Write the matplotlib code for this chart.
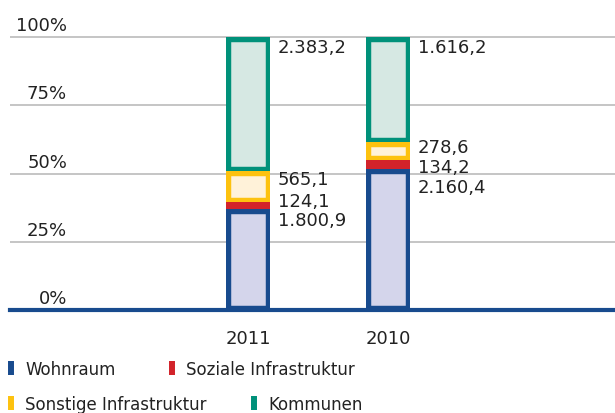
import numpy as np
import matplotlib.pyplot as plt
from matplotlib.lines import Line2D

# data (Mio. EUR)
years = ["2011", "2010"]
categories = ["Wohnraum", "Soziale Infrastruktur", "Sonstige Infrastruktur", "Kommunen"]
wohnraum = [1800.9, 2160.4]
soziale = [124.1, 134.2]
sonstige = [565.1, 278.6]
kommunen = [2383.2, 1616.2]
value_labels = [["1.800,9", "2.160,4"], ["124,1", "134,2"], ["565,1", "278,6"], ["2.383,2", "1.616,2"]]

edge_colors = ["#184b8e", "#d2232a", "#fdc20f", "#00917a"]
fill_colors = ["#d4d5eb", "#d2232a", "#fff2d9", "#d6e8e3"]
# label baseline offsets (pixels) relative to segment top
label_dy = [[-16, -23], [-3.5, -11.5], [-13.5, -10], [-15, -15]]

series = np.array([wohnraum, soziale, sonstige, kommunen])
shares = series / series.sum(axis=0)

fig = plt.figure(figsize=(6.15, 4.14), dpi=100)
ax = fig.add_axes([10 / 615, 103 / 414, 605 / 615, 281 / 414])

x = np.arange(len(years))
width = 0.31
bottom = np.zeros(len(years))
for i in range(len(categories)):
    bars = ax.bar(x, shares[i], width, bottom=bottom, color=fill_colors[i],
                  edgecolor=edge_colors[i], linewidth=6.8, zorder=3)
    # keep the outline inside each segment
    for b in bars:
        b.set_clip_path(b)
    top = bottom + shares[i]
    for j in range(len(years)):
        ax.annotate(value_labels[i][j], (x[j] + width / 2, top[j]),
                    xytext=(8, label_dy[i][j]), textcoords="offset pixels",
                    ha="left", va="baseline", fontsize=13, color="#222222", zorder=5)
    bottom = top

ax.set_xlim(-1.7, 2.62)
ax.set_ylim(0, 281 / 273)

for v in [0.25, 0.5, 0.75, 1.0]:
    ax.axhline(v, color="#bbbbbb", linewidth=1.2, zorder=1)
for v in [0, 0.25, 0.5, 0.75, 1.0]:
    ax.annotate(f"{int(v * 100)}%", (57 / 605, v), xycoords=("axes fraction", "data"),
                xytext=(0, 7), textcoords="offset pixels",
                ha="right", va="baseline", fontsize=13, color="#222222")

for s in ["top", "right", "left"]:
    ax.spines[s].set_visible(False)
ax.spines["bottom"].set_color("#184b8e")
ax.spines["bottom"].set_linewidth(3.0)
ax.spines["bottom"].set_zorder(4)
ax.set_yticks([])
ax.set_xticks(x, years, fontsize=13, color="#222222")
ax.tick_params(axis="x", length=0, pad=14)

handles = [Line2D([], [], marker="|", markersize=10, markeredgewidth=4.3,
                  linestyle="none", color=c) for c in edge_colors]
leg_kw = dict(frameon=False, fontsize=12, handlelength=0.5, handletextpad=0.6,
              borderpad=0, borderaxespad=0, ncol=2, loc="center left")
leg1 = fig.legend(handles[:2], categories[:2], bbox_to_anchor=(7 / 615, 1 - 370 / 414),
                  columnspacing=3.1, **leg_kw)
leg2 = fig.legend(handles[2:], categories[2:], bbox_to_anchor=(7 / 615, 1 - 405 / 414),
                  columnspacing=2.6, **leg_kw)
for leg in (leg1, leg2):
    for t in leg.get_texts():
        t.set_color("#222222")

fig.savefig("out.png", dpi=100)
